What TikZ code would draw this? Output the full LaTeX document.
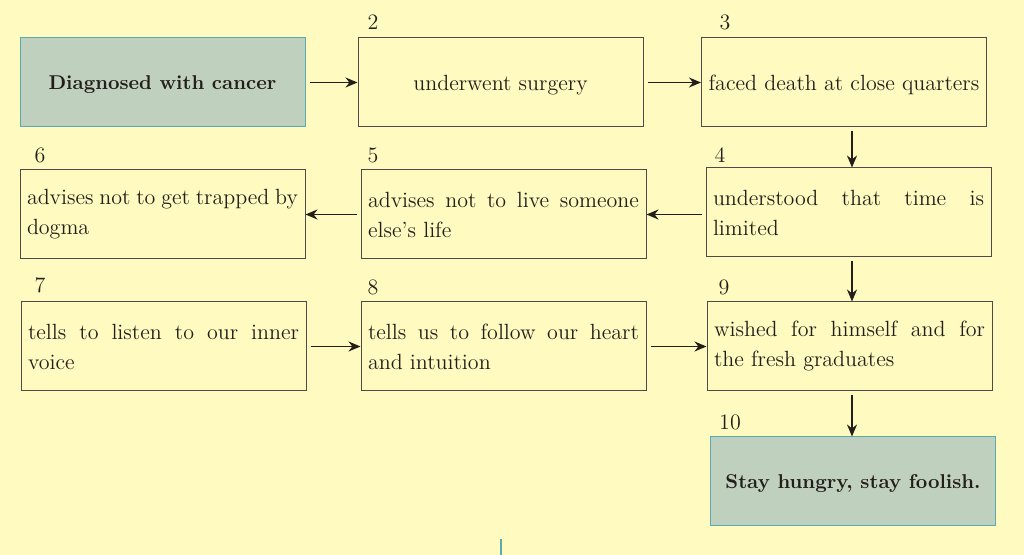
\documentclass[tikz,border=0pt]{standalone}
\usepackage{tikz}
\usetikzlibrary{arrows.meta}
\definecolor{paper}{RGB}{255,250,192}
\definecolor{sage}{RGB}{192,208,190}
\definecolor{tealedge}{RGB}{90,170,176}
\definecolor{ink}{RGB}{35,30,25}
\tikzset{
  stepbox/.style={draw=ink!80, line width=0.5pt, fill=paper, minimum width=142.5pt,
    minimum height=44.5pt, inner xsep=3.5pt, inner ysep=0pt, text=ink,
    font=\fontsize{11}{15}\selectfont},
  linebox/.style={stepbox, text depth=0pt},
  textbox/.style={stepbox, text width=135.5pt, align=justify},
  keybox/.style={linebox, draw=tealedge, fill=sage, font=\fontsize{10}{14}\selectfont\bfseries},
  num/.style={font=\fontsize{11}{13}\selectfont, text=ink, inner sep=0pt},
  flow/.style={->, line width=0.75pt, draw=ink, shorten <=2pt},
  >={Stealth[length=6pt,width=5pt]}
}
\begin{document}
\begin{tikzpicture}[x=0.5pt,y=-0.5pt]
\fill[paper] (0,0) rectangle (1024,555);
\useasboundingbox (0,0) rectangle (1024,555);
\node[keybox] (n1) at (162.5,82.5) {Diagnosed with cancer};
\node[linebox] (n2) at (500.5,82.5) {underwent surgery};
\node[linebox] (n3) at (844,82.5) {faced death at close quarters};
\node[textbox] (n4) at (848.5,212.5) {understood that time is\linebreak limited};
\node[textbox] (n5) at (503.5,214.5) {advises not to live someone\linebreak else's life};
\node[textbox] (n6) at (162.5,214.5) {advises not to get trapped by\linebreak dogma};
\node[textbox] (n7) at (163.5,346.5) {tells to listen to our inner\linebreak voice};
\node[textbox] (n8) at (503.5,346.5) {tells us to follow our heart\linebreak and intuition};
\node[textbox] (n9) at (849.5,346.5) {wished for himself and for\linebreak the fresh graduates};
\node[keybox] (n10) at (853,481.5) {Stay hungry, stay foolish.};
\foreach \n/\x/\y in {2/373/22,3/725/22,4/720/155,5/373/155,6/40/155,7/40/285,8/373/287,9/724/287,10/730/422}
  \node[num] (l\n) at (\x,\y) {\n};
\coordinate (col) at (852,0);
\draw[flow] (n1) -- (n2);
\draw[flow] (n2) -- (n3);
\draw[flow] (n3.south -| col) -- (n4.north -| col);
\draw[flow] (n4.west |- n5.east) -- (n5.east);
\draw[flow] (n5) -- (n6);
\draw[flow] (n4.south -| col) -- (n9.north -| col);
\draw[flow] (n7) -- (n8);
\draw[flow] (n8) -- (n9.west |- n8.east);
\draw[flow] (n9.south -| col) -- (n10.north -| col);
\draw[tealedge, line width=1pt] (501,539) -- (501,555);
\end{tikzpicture}
\end{document}
